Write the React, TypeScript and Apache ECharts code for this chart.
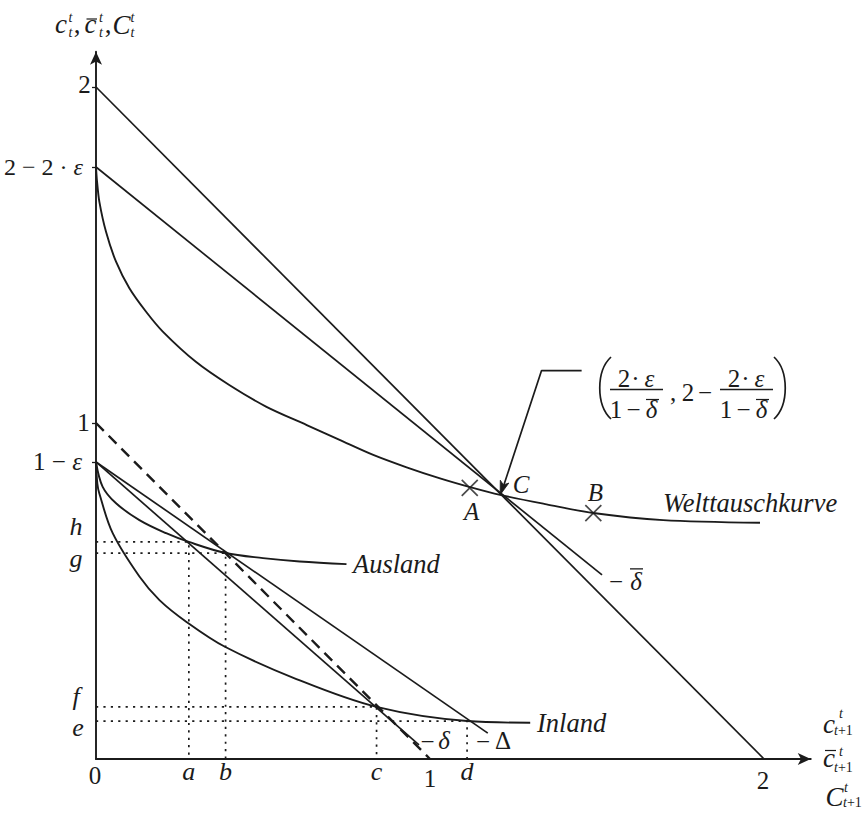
import React, { useEffect, useRef } from "react";
import * as echarts from "echarts";

// ---------- values ----------
const X_MAX = 2.14;
const Y_MAX = 2.105;

// straight lines (end points)
const worldBudgetLine = [[0, 2], [2, 0]];
const deltaBarLine = [[0, 1.762], [1.515, 0.548]];
const dashedLine = [[0, 1], [1, 0]];
const smallDeltaLine = [[0, 0.884], [0.967, 0.042]];
const bigDeltaLine = [[0, 0.884], [1.173, 0.077]];

// Welttauschkurve
const weltX = [0, 0.003, 0.01, 0.03, 0.06, 0.1, 0.15, 0.2, 0.299, 0.399, 0.509, 0.631, 0.731, 0.83, 0.93, 1.03, 1.12, 1.21, 1.349, 1.489, 1.698, 1.988];
const weltY = [1.762, 1.72, 1.659, 1.569, 1.48, 1.401, 1.331, 1.272, 1.182, 1.113, 1.049, 0.994, 0.949, 0.905, 0.868, 0.835, 0.809, 0.786, 0.758, 0.732, 0.711, 0.703];

// Ausland offer curve
const auslandX = [0, 0.02, 0.06, 0.13, 0.21, 0.278, 0.388, 0.5, 0.61, 0.75];
const auslandY = [0.884, 0.81, 0.761, 0.711, 0.672, 0.646, 0.613, 0.598, 0.588, 0.58];

// Inland offer curve
const inlandX = [0, 0.004, 0.01, 0.05, 0.13, 0.19, 0.271, 0.386, 0.6, 0.84, 1.111, 1.3];
const inlandY = [0.884, 0.82, 0.79, 0.672, 0.543, 0.473, 0.408, 0.334, 0.238, 0.155, 0.113, 0.108];

// dotted guide points (x labels a..d, y labels h..e)
const guideXNames = ["a", "b", "c", "d"];
const guideYNames = ["h", "g", "f", "e"];
const guideX = [0.278, 0.388, 0.84, 1.111];
const guideY = [0.646, 0.613, 0.155, 0.113];

// marked points
const crossPoints = [[1.119, 0.807], [1.489, 0.732]];
const pointC = [1.21, 0.786];
const leaderCoords = [[1.454, 1.156], [1.334, 1.156], [1.215, 0.797]];

// y-axis tick values
const yTickValues = [2, 1.762, 1, 0.884];

// ---------- styling ----------
const INK = "#1b1b1b";
const FONT = '"Liberation Serif", "Times New Roman", "DejaVu Serif", serif';

const zip = (xs: number[], ys: number[]) => xs.map((x, i) => [x, ys[i]]);

function lineSeries(name: string, data: number[][], opts: any = {}) {
  return {
    type: "line",
    name,
    data,
    symbol: "none",
    silent: true,
    smooth: opts.smooth ?? false,
    z: opts.z ?? 3,
    lineStyle: {
      color: INK,
      width: opts.width ?? 1.7,
      type: opts.type ?? "solid",
      cap: "butt",
    },
  };
}

function buildOption() {
  const guides = guideX.map((gx, i) =>
    lineSeries("guide-" + guideXNames[i], [[0, guideY[i]], [gx, guideY[i]], [gx, 0]], {
      type: [2.2, 5.2],
      width: 1.7,
      z: 2,
    })
  );
  return {
    animation: false,
    backgroundColor: "#ffffff",
    grid: { left: 96, top: 759 - Y_MAX * 336, width: X_MAX * 334, height: Y_MAX * 336, containLabel: false },
    xAxis: {
      type: "value",
      min: 0,
      max: X_MAX,
      axisLine: { show: true, onZero: false, symbol: ["none", "arrow"], symbolSize: [9, 13], lineStyle: { color: INK, width: 1.9 } },
      axisTick: { show: false },
      axisLabel: { show: false },
      splitLine: { show: false },
    },
    yAxis: {
      type: "value",
      min: 0,
      max: Y_MAX,
      axisLine: { show: true, onZero: false, symbol: ["none", "arrow"], symbolSize: [9, 13], lineStyle: { color: INK, width: 1.9 } },
      axisTick: { show: true, customValues: yTickValues, length: 4, lineStyle: { color: INK, width: 1.3 } },
      axisLabel: { show: false },
      splitLine: { show: false },
    },
    series: [
      lineSeries("Budget 2", worldBudgetLine),
      lineSeries("-delta bar", deltaBarLine),
      lineSeries("Welttauschkurve", zip(weltX, weltY), { smooth: 0.3, width: 1.9 }),
      lineSeries("Budget 1", dashedLine, { type: [11, 7], width: 2.4 }),
      lineSeries("-delta", smallDeltaLine),
      lineSeries("-Delta", bigDeltaLine),
      lineSeries("Ausland", zip(auslandX, auslandY), { smooth: 0.35, width: 1.9 }),
      lineSeries("Inland", zip(inlandX, inlandY), { smooth: 0.35, width: 1.9 }),
      ...guides,
      {
        type: "scatter",
        name: "A, B",
        data: crossPoints,
        symbol: "path://M0 0L10 10M10 0L0 10",
        symbolSize: 16,
        silent: true,
        z: 6,
        itemStyle: { color: "rgba(0,0,0,0)", borderColor: INK, borderWidth: 1.7 },
      },
      lineSeries("leader", leaderCoords, { width: 1.7, z: 7 }),
    ],
  };
}

function buildGraphic(chart: any) {
  const p = (x: number, y: number) => chart.convertToPixel({ gridIndex: 0 }, [x, y]) as number[];
  const g: any[] = [];
  const italic = (size: number) => ({ fontStyle: "italic", fontFamily: FONT, fontSize: size, fill: INK });
  const T = (text: string, x: number, y: number, o: any = {}) => {
    const size = o.size ?? 25;
    g.push({
      type: "text",
      x,
      y,
      silent: true,
      z: 10,
      style: {
        text,
        fill: INK,
        fontFamily: FONT,
        fontSize: size,
        fontStyle: o.italic ? "italic" : "normal",
        align: o.align ?? "center",
        verticalAlign: "middle",
        rich: { i: italic(size), n: { fontStyle: "normal", fontFamily: FONT, fontSize: size, fill: INK } },
      },
    });
  };
  const L = (x1: number, y1: number, x2: number, y2: number, w = 1.3) =>
    g.push({ type: "line", silent: true, z: 10, shape: { x1, y1, x2, y2 }, style: { stroke: INK, lineWidth: w } });

  const O = p(0, 0);

  // y-axis labels
  T("2", O[0] - 11.5, p(0, yTickValues[0])[1] - 3);
  T("2 − 2 · {i|ε}", O[0] - 13, p(0, yTickValues[1])[1], { align: "right", size: 24 });
  T("1", O[0] - 12.5, p(0, yTickValues[2])[1] - 0.5);
  T("1 − {i|ε}", O[0] - 14, p(0, yTickValues[3])[1], { align: "right" });
  const yOff = [-15, 5, -10, 6];
  const yLx = [76, 76, 76, 78];
  guideYNames.forEach((n, i) => T(n, yLx[i], p(0, guideY[i])[1] + yOff[i], { italic: true, size: 26 }));

  // x-axis labels
  T("0", O[0] - 1, O[1] + 16);
  guideXNames.forEach((n, i) => T(n, p(guideX[i], 0)[0], O[1] + 12.5, { italic: true, size: 26 }));
  T("1", p(1, 0)[0], O[1] + 19.5);
  T("2", p(2, 0)[0] - 1, O[1] + 21);

  // marked points
  const A = p(crossPoints[0][0], crossPoints[0][1]);
  const B = p(crossPoints[1][0], crossPoints[1][1]);
  const C = p(pointC[0], pointC[1]);
  T("A", A[0] + 2, A[1] + 24, { italic: true, size: 25 });
  T("B", B[0] + 2, B[1] - 21, { italic: true, size: 25 });
  T("C", C[0] + 21, C[1] - 10, { italic: true, size: 25 });

  // arrow head of the leader line
  const tail = p(leaderCoords[1][0], leaderCoords[1][1]);
  const tip = p(pointC[0], pointC[1]);
  const dx = tip[0] - tail[0];
  const dy = tip[1] - tail[1];
  const len = Math.hypot(dx, dy);
  const ux = dx / len;
  const uy = dy / len;
  const back = 14;
  const half = 4.5;
  g.push({
    type: "polygon",
    silent: true,
    z: 11,
    shape: {
      points: [
        [tip[0], tip[1]],
        [tip[0] - ux * back - uy * half, tip[1] - uy * back + ux * half],
        [tip[0] - ux * back * 0.75, tip[1] - uy * back * 0.75],
        [tip[0] - ux * back + uy * half, tip[1] - uy * back - ux * half],
      ],
    },
    style: { fill: INK, stroke: INK, lineWidth: 0.8 },
  });

  // curve / line labels
  T("Welttauschkurve", 663, 502.5, { italic: true, size: 26.5, align: "left" });
  T("Ausland", 353, 563.5, { italic: true, size: 26.5, align: "left" });
  T("Inland", 537, 722.5, { italic: true, size: 26.5, align: "left" });

  // -δ̄ at the end of the δ̄ line
  const dbEnd = p(deltaBarLine[1][0], deltaBarLine[1][1]);
  T("−", dbEnd[0] + 14, dbEnd[1] + 6.5);
  T("δ", dbEnd[0] + 34, dbEnd[1] + 6.5, { italic: true });
  L(dbEnd[0] + 28, dbEnd[1] - 6, dbEnd[0] + 41, dbEnd[1] - 6);

  // -δ and -Δ
  T("−", 427.5, 741);
  T("δ", 444, 740, { italic: true });
  T("−", 483, 741);
  T("Δ", 503, 740);

  // fraction annotation
  [0, 110].forEach((dx2) => {
    T("2", 624 + dx2, 378.5);
    T("·", 635.5 + dx2, 378.5);
    T("ε", 649.5 + dx2, 378.5, { italic: true });
    L(610 + dx2, 389.5, 663 + dx2, 389.5, 1.3);
    T("1", 616 + dx2, 409);
    T("−", 633.5 + dx2, 409);
    T("δ", 651.5 + dx2, 409.5, { italic: true });
    L(646 + dx2, 399.5, 659 + dx2, 399.5, 1.2);
  });
  T(",", 673, 392);
  T("2", 688, 392.5);
  T("−", 705, 392.5);
  g.push({
    type: "bezierCurve",
    silent: true,
    z: 10,
    shape: { x1: 611, y1: 357, cpx1: 596, cpy1: 371, cpx2: 596, cpy2: 405, x2: 611, y2: 419 },
    style: { stroke: INK, lineWidth: 1.7, fill: "none" },
  });
  g.push({
    type: "bezierCurve",
    silent: true,
    z: 10,
    shape: { x1: 774, y1: 357, cpx1: 789, cpy1: 371, cpx2: 789, cpy2: 405, x2: 774, y2: 419 },
    style: { stroke: INK, lineWidth: 1.7, fill: "none" },
  });

  // axis titles: top
  const SS = 14;
  T("c", 61, 24, { italic: true, size: 27 });
  T("t", 70.5, 17.5, { italic: true, size: SS });
  T("t", 70.5, 32.5, { italic: true, size: SS });
  T(",", 77, 24, { size: 27 });
  T("c", 90.5, 24, { italic: true, size: 27 });
  L(86.5, 19, 97, 19, 1.2);
  T("t", 101, 17.5, { italic: true, size: SS });
  T("t", 101, 32.5, { italic: true, size: SS });
  T(",", 108, 24, { size: 27 });
  T("C", 121.5, 25, { italic: true, size: 27 });
  T("t", 132.5, 17.5, { italic: true, size: SS });
  T("t", 132.5, 32.5, { italic: true, size: SS });

  // axis titles: right
  T("c", 829, 724, { italic: true, size: 27 });
  T("t", 841, 713.5, { italic: true, size: SS });
  T("{i|t}+1", 834, 730.5, { size: SS, align: "left" });
  T("c", 829, 758, { italic: true, size: 27 });
  L(825, 750.5, 836, 750.5, 1.2);
  T("t", 841, 751.5, { italic: true, size: SS });
  T("{i|t}+1", 834, 767, { size: SS, align: "left" });
  T("C", 834.5, 796.5, { italic: true, size: 27 });
  T("t", 846, 787, { italic: true, size: SS });
  T("{i|t}+1", 843, 802.5, { size: SS, align: "left" });

  return g;
}

export default function App() {
  const ref = useRef<HTMLDivElement>(null);
  useEffect(() => {
    const el = ref.current;
    if (!el) return;
    const chart = echarts.init(el, null, { renderer: "svg" });
    chart.setOption(buildOption() as any);
    chart.setOption({ graphic: buildGraphic(chart) } as any);
    return () => chart.dispose();
  }, []);
  return (
    <div
      ref={ref}
      style={{ position: "absolute", left: 0, top: 0, width: 863, height: 815, background: "#ffffff" }}
    />
  );
}
